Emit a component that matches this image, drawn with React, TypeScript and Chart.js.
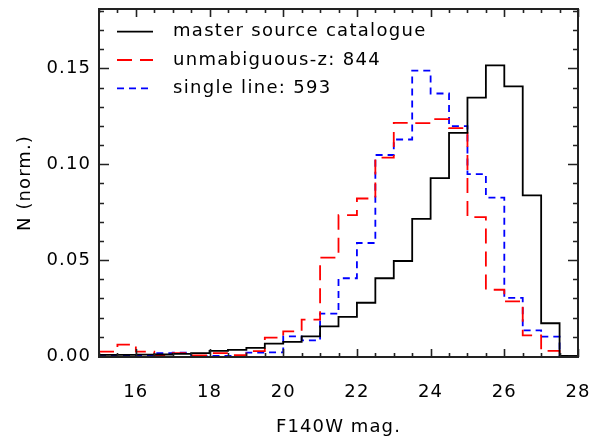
import React, { useEffect, useRef } from "react";
import { Chart, registerables } from "chart.js";

Chart.register(...registerables);

// ---- data ----
const binStarts = [
  15.0, 15.5, 16.0, 16.5, 17.0, 17.5, 18.0, 18.5, 19.0, 19.5, 20.0, 20.5, 21.0,
  21.5, 22.0, 22.5, 23.0, 23.5, 24.0, 24.5, 25.0, 25.5, 26.0, 26.5, 27.0, 27.5,
];
const binWidth = 0.5;

const masterValues = [
  0.0005, 0.0005, 0.0006, 0.0007, 0.001, 0.0014, 0.0026, 0.0031, 0.0042, 0.0064,
  0.0073, 0.0102, 0.0154, 0.0203, 0.0277, 0.0405, 0.0495, 0.0715, 0.0927, 0.1164,
  0.1348, 0.1516, 0.1406, 0.0837, 0.017, 0.0,
];
const unambiguousValues = [
  0.0022, 0.0059, 0.0022, 0.0003, 0.0014, 0.0003, 0.0014, 0.0004, 0.0025, 0.0095,
  0.0128, 0.0189, 0.0513, 0.0734, 0.0821, 0.1034, 0.1216, 0.1214, 0.1235, 0.1188,
  0.0724, 0.0345, 0.0284, 0.0107, 0.0026, 0.0,
];
const singleLineValues = [
  0.0, 0.0, 0.0, 0.0014, 0.0017, 0.0, 0.0, 0.0, 0.0017, 0.0018,
  0.0102, 0.0081, 0.022, 0.0405, 0.0589, 0.1048, 0.1129, 0.1488, 0.1369, 0.1199,
  0.0948, 0.0826, 0.0303, 0.0133, 0.01, 0.0,
];

const seriesLabels = [
  "master source catalogue",
  "unmabiguous-z: 844",
  "single line: 593",
];

const xTickValues = [16, 18, 20, 22, 24, 26, 28];
const yTickValues = [0, 0.05, 0.1, 0.15];
const xAxisTitle = "F140W mag.";
const yAxisTitle = "N (norm.)";

const X_MIN = 15;
const X_MAX = 28;
const Y_MIN = -0.0006;
const Y_MAX = 0.181;

const FONT = "'DejaVu Sans', sans-serif";

function toSteps(values: number[]) {
  const pts = values.map((v, i) => ({ x: binStarts[i], y: v }));
  const last = values.length - 1;
  pts.push({ x: binStarts[last] + binWidth, y: values[last] });
  return pts;
}

const framePlugin = {
  id: "idlFrame",
  beforeDraw(chart: any) {
    chart.ctx.letterSpacing = "1.1px";
  },
  afterDraw(chart: any) {
    const { ctx, chartArea } = chart;
    const { left, right, top, bottom } = chartArea;
    const xs = chart.scales.x;
    const ys = chart.scales.y;
    ctx.save();
    ctx.setLineDash([]);
    ctx.strokeStyle = "#222";
    ctx.lineWidth = 1.6;
    ctx.beginPath();
    // x ticks every 0.5, major every 2
    for (let i = 0; i <= Math.round((X_MAX - X_MIN) / 0.5); i++) {
      const v = X_MIN + i * 0.5;
      const px = Math.round(xs.getPixelForValue(v)) + 0.5;
      const major = Math.abs(v / 2 - Math.round(v / 2)) < 1e-6;
      const len = major ? 8 : 4;
      ctx.moveTo(px, bottom);
      ctx.lineTo(px, bottom - len);
      ctx.moveTo(px, top);
      ctx.lineTo(px, top + len);
    }
    // y ticks every 0.01, major every 0.05
    for (let i = 0; i <= 18; i++) {
      const v = i * 0.01;
      const py = Math.round(ys.getPixelForValue(v)) + 0.5;
      const major = i % 5 === 0;
      const len = major ? 10 : 5;
      ctx.moveTo(left, py);
      ctx.lineTo(left + len, py);
      ctx.moveTo(right, py);
      ctx.lineTo(right - len, py);
    }
    ctx.stroke();
    ctx.lineWidth = 2;
    ctx.strokeRect(left, top, right - left, bottom - top);

    // legend
    chart.data.datasets.forEach((ds: any, i: number) => {
      const yy = top + 22.7 + i * 28.3;
      ctx.beginPath();
      ctx.strokeStyle = ds.borderColor;
      ctx.lineWidth = ds.borderWidth;
      ctx.setLineDash(ds.borderDash || []);
      ctx.moveTo(left + 18, yy);
      ctx.lineTo(left + 54, yy);
      ctx.stroke();
      ctx.setLineDash([]);
      ctx.fillStyle = "#000";
      ctx.font = `18px ${FONT}`;
      ctx.textBaseline = "middle";
      ctx.textAlign = "left";
      ctx.letterSpacing = "1.3px";
      ctx.fillText(ds.label, left + 74, yy);
    });
    ctx.restore();
  },
};

export default function App() {
  const ref = useRef<HTMLCanvasElement | null>(null);

  useEffect(() => {
    if (!ref.current) return;
    Chart.defaults.color = "#000";
    const chart = new Chart(ref.current, {
      type: "line",
      data: {
        datasets: [
          {
            label: seriesLabels[0],
            data: toSteps(masterValues),
            borderColor: "#000000",
            borderWidth: 1.8,
            stepped: "before",
            pointRadius: 0,
            fill: false,
          },
          {
            label: seriesLabels[1],
            data: toSteps(unambiguousValues),
            borderColor: "#ff0000",
            borderWidth: 1.8,
            borderDash: [15, 8],
            stepped: "before",
            pointRadius: 0,
            fill: false,
          },
          {
            label: seriesLabels[2],
            data: toSteps(singleLineValues),
            borderColor: "#0000ff",
            borderWidth: 1.8,
            borderDash: [7, 5],
            stepped: "before",
            pointRadius: 0,
            fill: false,
          },
        ],
      },
      options: {
        animation: false,
        responsive: false,
        devicePixelRatio: 1,
        layout: { padding: { left: 0, right: 22, top: 9, bottom: 0 } },
        plugins: {
          legend: { display: false },
          tooltip: { enabled: false },
        },
        scales: {
          x: {
            type: "linear",
            min: X_MIN,
            max: X_MAX,
            grid: { display: false, drawTicks: false },
            border: { display: false },
            ticks: {
              padding: 25,
              font: { family: FONT, size: 18 },
              color: "#000",
              maxRotation: 0,
              callback: (v: any) => String(v),
            },
            afterBuildTicks: (scale: any) => {
              scale.ticks = xTickValues.map((v) => ({ value: v }));
            },
            afterFit: (scale: any) => {
              scale.height = 81;
              scale.paddingLeft = 0;
              scale.paddingRight = 0;
            },
            title: {
              display: true,
              text: xAxisTitle,
              font: { family: FONT, size: 18 },
              color: "#000",
              padding: { top: 0, bottom: 0 },
            },
          },
          y: {
            type: "linear",
            min: Y_MIN,
            max: Y_MAX,
            grid: { display: false, drawTicks: false },
            border: { display: false },
            ticks: {
              padding: 8,
              font: { family: FONT, size: 18 },
              color: "#000",
              callback: (v: any) => Number(v).toFixed(2),
            },
            afterBuildTicks: (scale: any) => {
              scale.ticks = yTickValues.map((v) => ({ value: v }));
            },
            afterFit: (scale: any) => {
              scale.width = 99;
              scale.paddingTop = 0;
              scale.paddingBottom = 0;
            },
            title: {
              display: true,
              text: yAxisTitle,
              font: { family: FONT, size: 18 },
              color: "#000",
              padding: { top: 15, bottom: 0 },
            },
          },
        },
      },
      plugins: [framePlugin],
    } as any);
    return () => chart.destroy();
  }, []);

  return (
    <div style={{ position: "fixed", left: 0, top: 0, width: 600, height: 438, background: "#fff" }}>
      <canvas ref={ref} width={600} height={438} style={{ width: 600, height: 438, display: "block" }} />
    </div>
  );
}
